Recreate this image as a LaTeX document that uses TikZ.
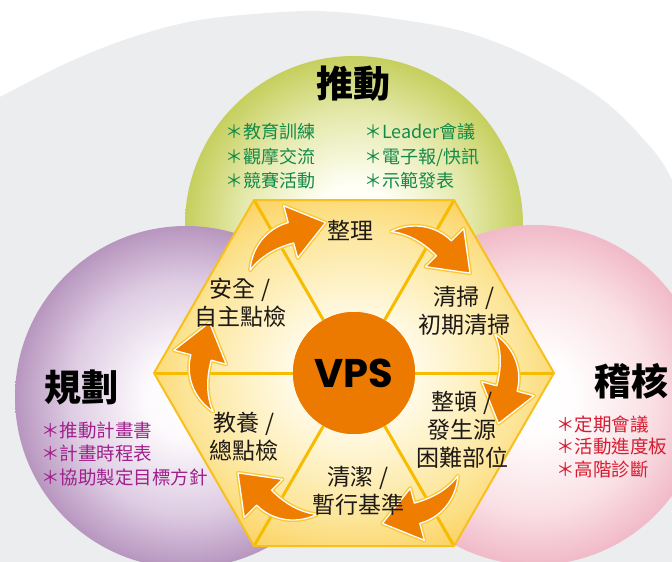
\documentclass[tikz,border=0pt]{standalone}
\usepackage{fontspec}
\setmainfont{Noto Sans CJK TC}
\newfontfamily\vpsfont{Poppins}
\definecolor{bggrey}{RGB}{236,237,239}
\definecolor{spokecol}{RGB}{247,188,0}
\definecolor{hexedge}{RGB}{248,192,30}
\definecolor{vpsorange}{RGB}{236,122,0}
\definecolor{arroworange}{RGB}{238,125,0}
\definecolor{arrowglowcol}{RGB}{250,200,50}
\definecolor{greentext}{RGB}{20,138,72}
\definecolor{purpletext}{RGB}{160,32,140}
\definecolor{redtext}{RGB}{214,28,48}
\definecolor{labeltext}{RGB}{30,25,20}
\pgfdeclareradialshading{greenball}{\pgfpoint{0bp}{0bp}}{rgb(0bp)=(1,1,1); rgb(6bp)=(1,1,0.96); rgb(17bp)=(0.89,0.91,0.66); rgb(26bp)=(0.76,0.8,0.33); rgb(33bp)=(0.65,0.7,0.08); rgb(50bp)=(0.64,0.69,0.07)}
\pgfdeclareradialshading{purpleball}{\pgfpoint{0bp}{0bp}}{rgb(0bp)=(1,1,1); rgb(6bp)=(0.99,0.98,0.99); rgb(17bp)=(0.87,0.8,0.89); rgb(26bp)=(0.7,0.56,0.73); rgb(33bp)=(0.54,0.32,0.56); rgb(50bp)=(0.53,0.31,0.55)}
\pgfdeclareradialshading{pinkball}{\pgfpoint{0bp}{0bp}}{rgb(0bp)=(1,1,1); rgb(6bp)=(1,0.99,0.99); rgb(17bp)=(0.98,0.88,0.9); rgb(26bp)=(0.94,0.71,0.77); rgb(33bp)=(0.91,0.57,0.64); rgb(50bp)=(0.91,0.56,0.63)}
\pgfdeclareradialshading{hexshade}{\pgfpoint{0bp}{0bp}}{rgb(0bp)=(1,0.99,0.95); rgb(8bp)=(1,0.98,0.9); rgb(21bp)=(0.99,0.9,0.6); rgb(34bp)=(0.98,0.76,0.2); rgb(50bp)=(0.98,0.76,0.2)}
\tikzset{
  arrowbody/.style={fill=arroworange, draw=white, line width=1.3pt, line join=round,
    preaction={draw=arrowglowcol, line width=4pt, line join=round}},
  hexlabel/.style={align=center, inner sep=0pt, text=labeltext, font=\fontsize{23}{28}\selectfont},
  heading/.style={inner sep=0pt, text=black, font=\bfseries\fontsize{37}{40}\selectfont},
  listtext/.style={align=left, anchor=west, inner sep=0pt},
  spokeline/.style={draw=spokecol, line width=3pt},
  cyclearrow/.pic={
    \begin{scope}[shift={(95,0)}]
      \path[arrowbody] plot[smooth, domain=-40:15, samples=14] (\x:{60+10.5*sin(90*(\x+40)/55)})
        -- (15:88) -- (49.5,50.5) -- (15:34)
        -- plot[smooth, domain=15:-40, samples=14] (\x:{60-10.5*sin(90*(\x+40)/55)}) -- cycle;
    \end{scope}
  }
}
\begin{document}
\begin{tikzpicture}[x=1pt,y=-1pt]
\useasboundingbox (0,0) rectangle (672,562);
\fill[white] (0,0) rectangle (672,562);
% grey background
\fill[bggrey] plot[smooth, tension=0.6] coordinates {(0,97) (67,63) (133,37) (200,20) (283,12) (336,12) (403,20) (469,33) (536,60) (603,100) (653,150) (672,180)} -- (672,562) -- (0,562) -- cycle;
% three circles
\shade[shading=greenball] (354,225) circle[radius=169pt];
\shade[shading=purpleball] (186,397) circle[radius=171pt];
\shade[shading=pinkball] (535,395) circle[radius=170pt];
% hexagon
\coordinate (v0) at (554,373);
\coordinate (v1) at (454,200);
\coordinate (v2) at (254,200);
\coordinate (v3) at (154,373);
\coordinate (v4) at (254,546);
\coordinate (v5) at (454,546);
\shade[shading=hexshade] (v0) -- (v1) -- (v2) -- (v3) -- (v4) -- (v5) -- cycle;
\node[circle, fill=vpsorange, minimum size=122pt, inner sep=0pt] (vps) at (354,373) {};
\foreach \v in {v0,v1,v2,v3,v4,v5} \draw[spokeline] (vps) -- (\v);
\draw[draw=hexedge, line width=2pt, line join=miter] (v0) -- (v1) -- (v2) -- (v3) -- (v4) -- (v5) -- cycle;
\node[circle, fill=vpsorange, minimum size=122pt, inner sep=0pt] (vpsc) at (354,373) {\vpsfont\bfseries\fontsize{40}{40}\selectfont VPS};
% arrows
\foreach \r in {0,60,120,180,240,300} \pic[rotate=\r] at (354,373) {cyclearrow};
% hexagon labels
\node[hexlabel] (zhengli) at (350,230) {整理};
\node[hexlabel] (qingsao) at (464,311) {清掃 /\\初期清掃};
\node[hexlabel] (zhengdun) at (462,430) {整頓 /\\發生源\\困難部位};
\node[hexlabel] (qingjie) at (358,491) {清潔 /\\暫行基準};
\node[hexlabel] (jiaoyang) at (244,437) {教養 /\\總點檢};
\node[hexlabel] (anquan) at (240,303) {安全 /\\自主點檢};
% headings
\node[heading] (tuidong) at (353,84) {推動};
\node[heading] (guihua) at (81,387) {規劃};
\node[heading] (jihe) at (631,381) {稽核};
% lists
\node[listtext, text=greentext, font=\fontsize{18}{24.5}\selectfont] (glist1) at (225,156.5) {＊教育訓練\\＊觀摩交流\\＊競賽活動};
\node[listtext, text=greentext, font=\fontsize{18}{24.5}\selectfont] (glist2) at (364,156.5) {＊Leader會議\\＊電子報/快訊\\＊示範發表};
\node[listtext, text=purpletext, font=\fontsize{18.5}{23.5}\selectfont] (plist) at (41,453.5) {＊推動計畫書\\＊計畫時程表\\＊協助製定目標方針};
\node[listtext, text=redtext, font=\fontsize{18.5}{22.5}\selectfont] (rlist) at (556,446.5) {＊定期會議\\＊活動進度板\\＊高階診斷};
\end{tikzpicture}
\end{document}
